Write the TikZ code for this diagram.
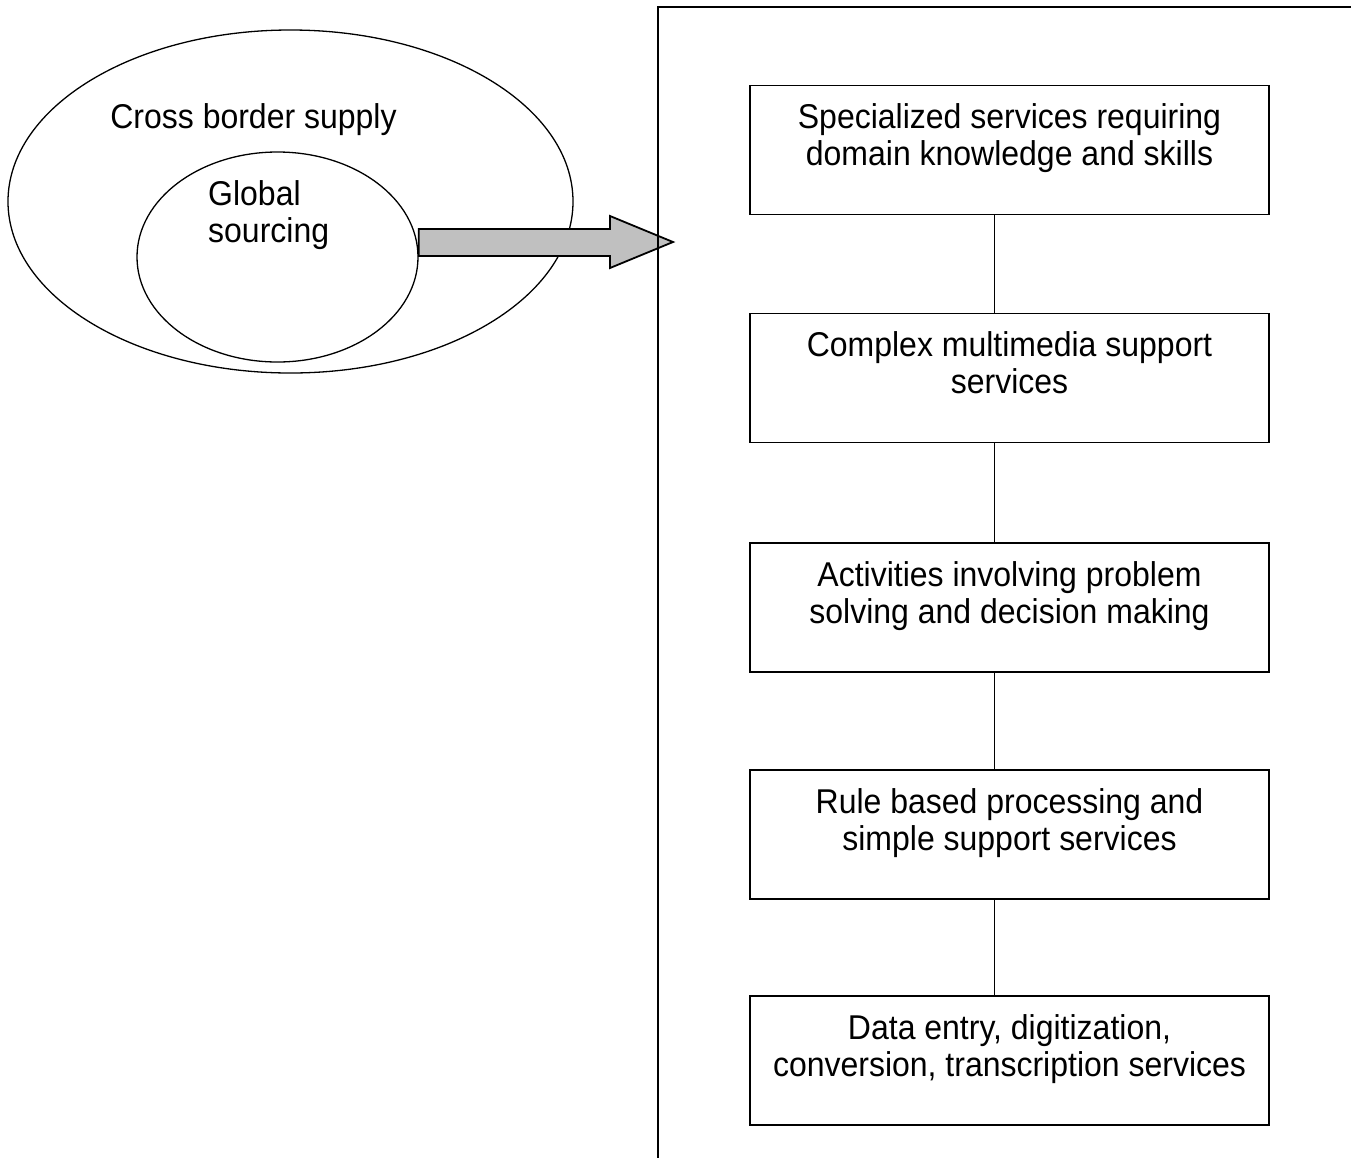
\documentclass[tikz,border=0pt]{standalone}
\usepackage{fontspec}
\setmainfont{Liberation Sans}[FakeStretch=0.93]
\usetikzlibrary{shapes.geometric}
% first-line strut: puts the first baseline a fixed distance below the top edge
\newcommand\firstline[1]{\rule{0pt}{#1}}
\newcommand\boxtext[1]{\parbox[c][129pt][t]{519pt}{\centering\firstline{43pt}#1}}
\begin{document}
\begin{tikzpicture}[x=1pt,y=-1pt,
  txt/.style={font=\fontsize{34.4}{37.5}\selectfont, inner sep=0pt},
  ring/.style={draw, ellipse, line width=1.3pt, inner sep=0pt},
  boxst/.style={draw, line width=1.8pt, inner sep=0pt, fill=white,
    font=\fontsize{34.4}{37}\selectfont},
  link/.style={line width=1pt},
  blockarrow/.style={draw, line width=1.8pt, fill=arrowgray, line join=miter},
  framest/.style={draw, line width=1.8pt, inner sep=0pt, anchor=north west,
    minimum width=800pt, minimum height=1300pt}]
\definecolor{arrowgray}{RGB}{192,192,192}
\useasboundingbox (0,0) rectangle (1351,1157);
\clip (0,0) rectangle (1351,1157);

% nested sourcing ellipses
\node[ring, minimum width=565pt, minimum height=343pt] (cross) at (290.5,201.5) {};
\node[ring, minimum width=281pt, minimum height=210pt] (global) at (277.5,257) {};
\node[txt, anchor=base] (crosslbl) at (253.5,128) {Cross border supply};
\node[txt, anchor=north west, align=left] (globallbl) at (208,180)
  {\firstline{25pt}Global\\sourcing};

% block arrow leaving the inner ellipse
\coordinate (tip) at (673,242);
\draw[blockarrow] (global.east |- 0,229) -- (610,229) -- (610,216) -- (tip)
  -- (610,268) -- (610,256) -- (global.east |- 0,256) -- cycle;

% service frame (open to the right and bottom)
\node[framest] (frame) at (657,6) {};

% service levels
\node[boxst] (s1) at (1009.5,150) {\boxtext{Specialized services requiring\\domain knowledge and skills}};
\node[boxst] (s2) at (1009.5,378) {\boxtext{Complex multimedia support\\services}};
\node[boxst] (s3) at (1009.5,607.5) {\boxtext{Activities involving problem\\solving and decision making}};
\node[boxst] (s4) at (1009.5,834.5) {\boxtext{Rule based processing and\\simple support services}};
\node[boxst] (s5) at (1009.5,1060.5) {\boxtext{Data entry, digitization,\\conversion, transcription services}};

\foreach \a/\b in {s1/s2, s2/s3, s3/s4, s4/s5}
  \draw[link] ([xshift=-15.5pt]\a.south) -- ([xshift=-15.5pt]\b.north);
\end{tikzpicture}
\end{document}
